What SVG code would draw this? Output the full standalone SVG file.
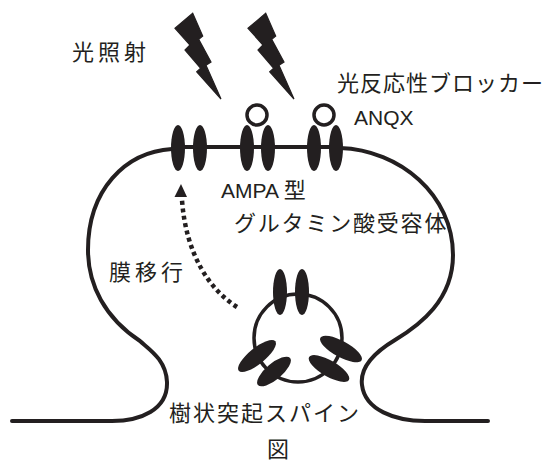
<svg xmlns="http://www.w3.org/2000/svg" width="543" height="463" viewBox="0 0 543 463">
  <style>
    .line { fill: none; stroke: #231f20; stroke-width: 4; stroke-linecap: round; }
    .rec { fill: #231f20; }
    .ring { fill: #fff; stroke: #231f20; stroke-width: 3.5; }
    .jp { font-family: "Noto Sans CJK JP", "Noto Sans", sans-serif; font-size: 22px; fill: #231f20; }
    .lat { font-family: "Liberation Sans", Arial, sans-serif; font-size: 21px; fill: #231f20; }
    .dots { fill: none; stroke: #231f20; stroke-width: 4.5; stroke-dasharray: 4 3.5; }
  </style>
  <defs>
    <!-- lightning bolt -->
    <polygon id="bolt" points="175,28.3 192.7,13.3 202.7,36 198.7,39.3 211,62 206,65.3 221,99 196.7,71.7 200.7,68.3 185,50 190,45"/>
  </defs>

  <rect width="543" height="463" fill="#fff"/>

  <!-- light -->
  <g id="light" fill="#231f20" stroke="#231f20" stroke-width="1.2" stroke-linejoin="miter">
    <use href="#bolt"/>
    <use href="#bolt" transform="translate(73,0)"/>
  </g>

  <!-- membrane outline and movement arrow -->
  <g id="connectors">
    <path class="line" d="M12,421 H112 C140,421 168,410 167,382 C166,360 150,350 140,341 C105,318 88,285 88,250 C88,190 125,152 172,149"/>
    <path class="line" d="M178,147 H336"/>
    <path class="line" d="M340,148 C400,150 453,195 453,255 C453,300 420,325 395,340 C370,355 360,370 362,385 C365,410 395,421 425,421 H488"/>
    <path class="dots" d="M237,307 C210,290 186,255 182,200"/>
    <polygon fill="#231f20" points="181,184 174.5,197 187,197"/>
  </g>

  <!-- synaptic membrane receptors -->
  <g id="receptors">
    <circle class="ring" cx="257" cy="115" r="10"/>
    <circle class="ring" cx="324" cy="115" r="10"/>
    <ellipse class="rec" cx="178" cy="148" rx="7" ry="23"/>
    <ellipse class="rec" cx="200" cy="148" rx="7" ry="23"/>
    <ellipse class="rec" cx="247" cy="148" rx="7" ry="23"/>
    <ellipse class="rec" cx="268" cy="148" rx="7" ry="23"/>
    <ellipse class="rec" cx="314" cy="148" rx="7" ry="23"/>
    <ellipse class="rec" cx="336" cy="148" rx="7" ry="23"/>
  </g>

  <!-- vesicle with receptors -->
  <g id="vesicle">
    <circle cx="298" cy="338" r="44" fill="none" stroke="#231f20" stroke-width="3.5"/>
    <ellipse class="rec" cx="280" cy="292" rx="7" ry="23"/>
    <ellipse class="rec" cx="302" cy="292" rx="7" ry="23"/>
    <ellipse class="rec" cx="257" cy="356" rx="23.5" ry="8" transform="rotate(-39 257 356)"/>
    <ellipse class="rec" cx="274" cy="371.5" rx="21" ry="8" transform="rotate(-40 274 371.5)"/>
    <ellipse class="rec" cx="341" cy="349" rx="23.5" ry="8" transform="rotate(28.5 341 349)"/>
    <ellipse class="rec" cx="329" cy="368.5" rx="23" ry="8" transform="rotate(30 329 368.5)"/>
  </g>

  <!-- labels -->
  <g id="labels">
    <text class="jp" x="72" y="60" letter-spacing="4">光照射</text>
    <text class="jp" x="337" y="91" letter-spacing="1">光反応性ブロッカー</text>
    <text class="lat" x="354" y="125">ANQX</text>
    <text x="221" y="198"><tspan class="lat">AMPA </tspan><tspan class="jp" font-size="21">型</tspan></text>
    <text class="jp" x="234" y="231" letter-spacing="1.8">グルタミン酸受容体</text>
    <text class="jp" x="109" y="280" letter-spacing="4">膜移行</text>
    <text class="jp" x="169" y="421" letter-spacing="2">樹状突起スパイン</text>
    <text class="jp" x="267" y="457" font-size="16">図</text>
  </g>
</svg>
